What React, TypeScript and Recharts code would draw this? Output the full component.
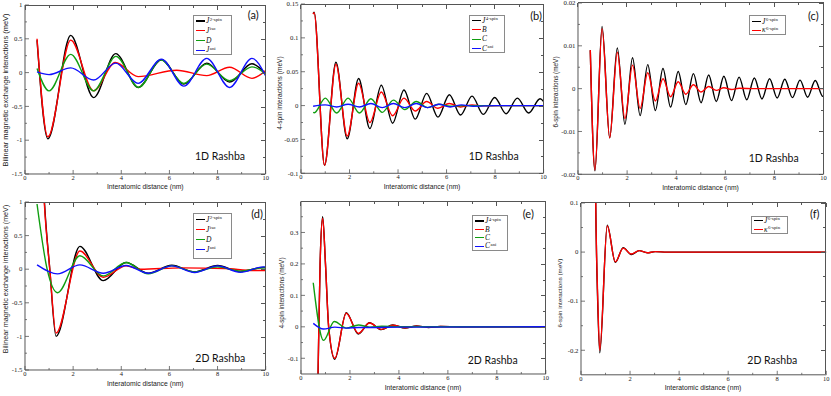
import React from 'react';
import { LineChart, Line, XAxis, YAxis } from 'recharts';

type Pair = [number, number];

// ---------- axis ticks ----------
const X_MAJOR = [0, 2, 4, 6, 8, 10];
const X_MINOR = [1, 3, 5, 7, 9];

const Y_AD_MAJOR = [-1.5, -1, -0.5, 0, 0.5, 1];
const Y_AD_MINOR = [-1.25, -0.75, -0.25, 0.25, 0.75];
const Y_B_MAJOR = [-0.1, -0.05, 0, 0.05, 0.1, 0.15];
const Y_B_MINOR = [-0.075, -0.025, 0.025, 0.075, 0.125];
const Y_C_MAJOR = [-0.02, -0.01, 0, 0.01, 0.02];
const Y_C_MINOR = [-0.015, -0.005, 0.005, 0.015];
const Y_E_MAJOR = [-0.1, 0, 0.1, 0.2, 0.3];
const Y_E_MINOR = [-0.05, 0.05, 0.15, 0.25, 0.35];
const Y_F_MAJOR = [-0.2, -0.1, 0, 0.1];
const Y_F_MINOR = [-0.15, -0.05, 0.05];

// ---------- panel (a): 1D Rashba, bilinear ----------
const a_J2spin: Pair[] = [[0.5,0.48],[0.95,-0.98],[1.9,0.55],[2.85,-0.37],[3.77,0.28],[4.7,-0.22],[5.67,0.19],[6.6,-0.17],[7.55,0.14],[8.5,-0.14],[9.43,0.13],[10,-0.02]];
const a_Jiso: Pair[] = [[0.5,0.5],[0.95,-0.95],[1.9,0.48],[2.85,-0.27],[3.75,0.15],[4.7,-0.06],[6.3,0.035],[7.55,-0.045],[8.5,0.08],[9.43,-0.085],[10,0.03]];
const a_D: Pair[] = [[0.5,0.06],[1.0,-0.27],[1.9,0.27],[2.85,-0.27],[3.78,0.24],[4.72,-0.22],[5.65,0.19],[6.6,-0.16],[7.55,0.125],[8.5,-0.12],[9.43,0.085],[10,-0.02]];
const a_Jani: Pair[] = [[0.5,0.01],[1.0,-0.03],[1.9,0.07],[2.85,-0.11],[3.77,0.14],[4.7,-0.16],[5.67,0.2],[6.6,-0.2],[7.55,0.21],[8.5,-0.22],[9.43,0.21],[10,-0.05]];

// ---------- panel (b): 1D Rashba, 4-spin ----------
const b_J4spin: Pair[] = [[0.5,0.136],[0.54,0.138],[0.97,-0.088],[1.44,0.064],[1.905,-0.049],[2.375,0.04],[2.84,-0.034],[3.31,0.03],[3.775,-0.026],[4.245,0.023],[4.71,-0.02],[5.18,0.018],[5.645,-0.017],[6.115,0.016],[6.58,-0.014],[7.05,0.014],[7.515,-0.013],[7.985,0.012],[8.45,-0.012],[8.92,0.011],[9.385,-0.011],[9.855,0.01],[10,0.006]];
const b_B: Pair[] = [[0.5,0.135],[0.54,0.137],[0.97,-0.088],[1.44,0.061],[1.905,-0.045],[2.375,0.033],[2.84,-0.025],[3.31,0.02],[3.775,-0.015],[4.245,0.011],[4.71,-0.008],[5.18,0.006],[5.645,-0.004],[6.115,0.003],[6.58,-0.002],[7.05,0.001],[7.515,-0.0005],[8.2,0],[10,0]];
const b_C: Pair[] = [[0.5,-0.01],[0.55,-0.0105],[1.0,0.011],[1.47,-0.011],[1.94,0.011],[2.41,-0.011],[2.88,0.01],[3.35,-0.01],[3.81,0.008],[4.28,-0.006],[4.75,0.006],[5.22,-0.003],[5.68,0.002],[6.15,-0.001],[6.7,0],[10,0]];
const b_Cani: Pair[] = [[0.5,-0.001],[1.0,0.001],[1.47,-0.002],[1.94,0.002],[2.41,-0.002],[2.88,0.003],[3.35,-0.003],[3.81,0.003],[4.28,-0.003],[4.75,0.003],[5.22,-0.003],[5.68,0.002],[6.15,-0.002],[6.62,0.001],[7.1,-0.001],[8,0],[10,0]];

// ---------- panel (c): 1D Rashba, 6-spin ----------
const c_J6spin: Pair[] = [[0.5,0.009],[0.69,-0.0192],[0.98,0.0145],[1.29,-0.0115],[1.6,0.0095],[1.91,-0.0083],[2.22,0.0072],[2.53,-0.0063],[2.84,0.0056],[3.15,-0.0051],[3.46,0.0047],[3.77,-0.0043],[4.08,0.004],[4.39,-0.0037],[4.7,0.0035],[5.01,-0.0033],[5.32,0.0032],[5.63,-0.003],[5.94,0.0029],[6.25,-0.0028],[6.56,0.0027],[6.87,-0.0026],[7.18,0.0025],[7.49,-0.0024],[7.8,0.0023],[8.11,-0.0022],[8.42,0.0022],[8.73,-0.0021],[9.04,0.002],[9.35,-0.002],[9.66,0.0019],[9.97,-0.0018],[10,-0.0017]];
const c_kappa: Pair[] = [[0.5,0.009],[0.69,-0.019],[0.98,0.014],[1.29,-0.0115],[1.6,0.0085],[1.91,-0.007],[2.22,0.0055],[2.53,-0.0046],[2.84,0.0037],[3.15,-0.0029],[3.46,0.0023],[3.77,-0.0019],[4.08,0.0016],[4.39,-0.0013],[4.7,0.0009],[5.01,-0.0008],[5.32,0.0005],[5.63,-0.0004],[5.94,0.0002],[6.25,-0.0002],[6.56,0.0001],[7.2,0],[10,0]];

// ---------- panel (d): 2D Rashba, bilinear ----------
const d_J2spin: Pair[] = [[0.55,3.2],[0.8,1.05],[1.03,0],[1.29,-1.0],[2.28,0.34],[3.25,-0.17],[4.2,0.1],[5.12,-0.06],[6.1,0.06],[7.05,-0.04],[8.0,0.055],[8.95,-0.035],[9.9,0.025],[10,0.024]];
const d_Jiso: Pair[] = [[0.55,3.1],[0.8,1.0],[1.03,0],[1.29,-0.95],[2.28,0.27],[3.25,-0.12],[4.2,0.05],[4.8,0.0],[6.5,0.02],[8.3,0.01],[9.5,-0.02],[10,-0.02]];
const d_D: Pair[] = [[0.5,0.97],[0.92,0],[1.35,-0.35],[2.28,0.2],[3.25,-0.1],[4.2,0.1],[5.12,-0.07],[6.1,0.05],[7.05,-0.04],[8.0,0.035],[8.95,-0.03],[9.9,0.02],[10,0.02]];
const d_Jani: Pair[] = [[0.5,0.065],[1.35,-0.07],[2.28,0.065],[3.25,-0.06],[4.2,0.055],[5.12,-0.06],[6.1,0.05],[7.05,-0.05],[8.0,0.05],[8.95,-0.045],[9.9,0.035],[10,0.034]];

// ---------- panel (e): 2D Rashba, 4-spin ----------
const e_J4spin: Pair[] = [[0.6,-0.62],[0.7,-0.14],[0.78,0.2],[0.885,0.35],[1.0,0.2],[1.13,0.0],[1.38,-0.103],[1.85,0.045],[2.34,-0.023],[2.8,0.013],[3.28,-0.009],[3.75,0.006],[4.25,-0.004],[4.72,0.003],[5.2,-0.002],[5.7,0.001],[6.5,0],[10,0]];
const e_B: Pair[] = [[0.6,-0.6],[0.7,-0.13],[0.78,0.2],[0.885,0.345],[1.0,0.2],[1.13,0.0],[1.38,-0.1],[1.85,0.043],[2.34,-0.021],[2.8,0.012],[3.28,-0.008],[3.75,0.005],[4.25,-0.003],[4.72,0.002],[5.2,-0.001],[5.7,0.0008],[6.5,0],[10,0]];
const e_C: Pair[] = [[0.5,0.14],[0.92,-0.043],[1.36,0.017],[1.85,-0.004],[2.35,0.006],[2.8,-0.001],[3.3,0.002],[4,0],[10,0]];
const e_Cani: Pair[] = [[0.5,0.011],[0.92,-0.007],[1.38,-0.001],[1.85,-0.004],[2.35,-0.002],[3,-0.002],[4,-0.001],[10,0]];

// ---------- panel (f): 2D Rashba, 6-spin ----------
const f_J6spin: Pair[] = [[0.53,0.52],[0.6,0.1],[0.68,-0.1],[0.765,-0.205],[1.07,0.055],[1.4,-0.021],[1.72,0.009],[2.05,-0.005],[2.37,0.003],[2.7,-0.0015],[3.02,0.001],[3.5,0],[10,0]];
const f_kappa: Pair[] = [[0.53,0.5],[0.6,0.1],[0.68,-0.09],[0.765,-0.2],[1.07,0.053],[1.4,-0.02],[1.72,0.008],[2.05,-0.004],[2.37,0.003],[2.7,-0.0015],[3.02,0.001],[3.5,0],[10,0]];

// ---------- texts ----------
const X_TITLE = 'Interatomic distance (nm)';
const Y_TITLE_BIL = 'Bilinear magnetic exchange interactions (meV)';
const Y_TITLE_4 = '4-spin interactions (meV)';
const Y_TITLE_6 = '6-spin interactions (meV)';

// ---------- style ----------
const BLACK = '#000000';
const RED = '#ff0000';
const GREEN = '#109e10';
const BLUE = '#1010ff';
const FRAME = '#555555';
const TICK_FONT = '"Liberation Serif", "DejaVu Serif", serif';
const SANS = '"Liberation Sans", Arial, sans-serif';
const CAL = 'Lato, "Open Sans", sans-serif';

// axis box sizes and the padding of each chart's svg around its plot area
const AX_B = 10;
const AX_L = 18;
const PAD_L = 30;
const PAD_T = 12;
const PAD_R = 12;
const PAD_B = 20;

interface LegendItem { color: string; base: string; sup?: string; }
interface Panel {
  plot: { l: number; t: number; r: number; b: number };
  yDomain: [number, number];
  yMajor: number[];
  yMinor: number[];
  series: { data: Pair[]; color: string }[];
  yTitle: string; yTitleSize: number; yTitlePos: [number, number];
  xTitlePos: [number, number];
  tag: string; tagPos: [number, number];
  note: string; notePos: [number, number];
  legend: { x: number; y: number; w: number; h: number; first: number; pitch: number; items: LegendItem[] };
}

const LEG_BIL: LegendItem[] = [
  { color: BLACK, base: 'J', sup: '2-spin' },
  { color: RED, base: 'J', sup: 'iso' },
  { color: GREEN, base: 'D' },
  { color: BLUE, base: 'J', sup: 'ani' },
];
const LEG_4: LegendItem[] = [
  { color: BLACK, base: 'J', sup: '4-spin' },
  { color: RED, base: 'B' },
  { color: GREEN, base: 'C' },
  { color: BLUE, base: 'C', sup: 'ani' },
];
const LEG_6: LegendItem[] = [
  { color: BLACK, base: 'J', sup: '6-spin' },
  { color: RED, base: 'κ', sup: '6-spin' },
];

const PANELS: Panel[] = [
  {
    plot: { l: 25, t: 5, r: 265.7, b: 174 },
    yDomain: [-1.5, 1], yMajor: Y_AD_MAJOR, yMinor: Y_AD_MINOR,
    series: [{ data: a_J2spin, color: BLACK }, { data: a_Jiso, color: RED }, { data: a_D, color: GREEN }, { data: a_Jani, color: BLUE }],
    yTitle: Y_TITLE_BIL, yTitleSize: 7.4, yTitlePos: [6, 90], xTitlePos: [145.3, 186.5],
    tag: '(a)', tagPos: [253.3, 14.3], note: '1D Rashba', notePos: [220, 155.7],
    legend: { x: 193, y: 15, w: 39, h: 40, first: 21, pitch: 9.7, items: LEG_BIL },
  },
  {
    plot: { l: 300.7, t: 4, r: 543.3, b: 173.3 },
    yDomain: [-0.1, 0.15], yMajor: Y_B_MAJOR, yMinor: Y_B_MINOR,
    series: [{ data: b_J4spin, color: BLACK }, { data: b_B, color: RED }, { data: b_C, color: GREEN }, { data: b_Cani, color: BLUE }],
    yTitle: Y_TITLE_4, yTitleSize: 6.6, yTitlePos: [280, 93], xTitlePos: [422, 187],
    tag: '(b)', tagPos: [536, 14.5], note: '1D Rashba', notePos: [493.7, 156],
    legend: { x: 469, y: 15, w: 36, h: 38, first: 20.7, pitch: 9.2, items: LEG_4 },
  },
  {
    plot: { l: 577.7, t: 2.7, r: 823.3, b: 174 },
    yDomain: [-0.02, 0.02], yMajor: Y_C_MAJOR, yMinor: Y_C_MINOR,
    series: [{ data: c_J6spin, color: BLACK }, { data: c_kappa, color: RED }],
    yTitle: Y_TITLE_6, yTitleSize: 6.4, yTitlePos: [555.5, 91.7], xTitlePos: [700.5, 188],
    tag: '(c)', tagPos: [813.3, 14.5], note: '1D Rashba', notePos: [773.7, 157.5],
    legend: { x: 749, y: 15, w: 37, h: 20, first: 21.7, pitch: 8.5, items: LEG_6 },
  },
  {
    plot: { l: 25, t: 202, r: 265.7, b: 370 },
    yDomain: [-1.5, 1], yMajor: Y_AD_MAJOR, yMinor: Y_AD_MINOR,
    series: [{ data: d_J2spin, color: BLACK }, { data: d_Jiso, color: RED }, { data: d_D, color: GREEN }, { data: d_Jani, color: BLUE }],
    yTitle: Y_TITLE_BIL, yTitleSize: 7.2, yTitlePos: [6, 279.3], xTitlePos: [145.3, 383.5],
    tag: '(d)', tagPos: [257, 213.3], note: '2D Rashba', notePos: [220.3, 357.7],
    legend: { x: 193, y: 212.7, w: 39, h: 46, first: 219.5, pitch: 10, items: LEG_BIL },
  },
  {
    plot: { l: 300.7, t: 201, r: 545.5, b: 374 },
    yDomain: [-0.15, 0.4], yMajor: Y_E_MAJOR, yMinor: Y_E_MINOR,
    series: [{ data: e_J4spin, color: BLACK }, { data: e_B, color: RED }, { data: e_C, color: GREEN }, { data: e_Cani, color: BLUE }],
    yTitle: Y_TITLE_4, yTitleSize: 6.4, yTitlePos: [281.7, 292.7], xTitlePos: [423, 388],
    tag: '(e)', tagPos: [528.3, 213], note: '2D Rashba', notePos: [492.7, 360],
    legend: { x: 472, y: 215, w: 36, h: 36, first: 221, pitch: 8.4, items: LEG_4 },
  },
  {
    plot: { l: 580.7, t: 202.5, r: 826, b: 374.3 },
    yDomain: [-0.25, 0.1], yMajor: Y_F_MAJOR, yMinor: Y_F_MINOR,
    series: [{ data: f_J6spin, color: BLACK }, { data: f_kappa, color: RED }],
    yTitle: Y_TITLE_6, yTitleSize: 6.2, yTitlePos: [560, 292.7], xTitlePos: [703, 388.3],
    tag: '(f)', tagPos: [814.7, 213], note: '2D Rashba', notePos: [772.3, 360.3],
    legend: { x: 751, y: 216, w: 37, h: 18, first: 220.5, pitch: 8.8, items: LEG_6 },
  },
];

const toPts = (arr: Pair[]) => arr.map(([x, y]) => ({ x, y }));
const fmt = (v: number) => String(v);
const MAJ = 4;
const MIN = 2;

function makeBottomTick(majors: number[]) {
  return (props: any) => {
    const { x, y, payload } = props;
    const v = payload.value;
    const isMaj = majors.includes(v);
    return (
      <g>
        <line x1={x} x2={x} y1={y} y2={y - (isMaj ? MAJ : MIN)} stroke={FRAME} strokeWidth={0.8} />
        {isMaj && (
          <text x={x} y={y + 5.8} textAnchor="middle" fontFamily={TICK_FONT} fontSize={6.5} fill="#222">{fmt(v)}</text>
        )}
      </g>
    );
  };
}
function makeLeftTick(majors: number[]) {
  return (props: any) => {
    const { x, y, payload } = props;
    const v = payload.value;
    const isMaj = majors.includes(v);
    return (
      <g>
        <line x1={x} x2={x + (isMaj ? MAJ : MIN)} y1={y} y2={y} stroke={FRAME} strokeWidth={0.8} />
        {isMaj && (
          <text x={x - 2.5} y={y + 2.3} textAnchor="end" fontFamily={TICK_FONT} fontSize={6.8} fill="#222">{fmt(v)}</text>
        )}
      </g>
    );
  };
}

const X_TICKS = [...X_MAJOR, ...X_MINOR].sort((a, b) => a - b);
const X_DOMAIN: [number, number] = [0, 10];

// top / right edges of the frame box with inward tick marks (decoration mirroring the axes)
function FrameTopRight({ p }: { p: Panel }) {
  const { plot } = p;
  const [y0, y1] = p.yDomain;
  const yTicks = [...p.yMajor, ...p.yMinor];
  const W = plot.r - plot.l;
  const H = plot.b - plot.t;
  return (
    <div style={{
      position: 'absolute', left: plot.l, top: plot.t - 0.5, width: W + 0.5, height: H + 0.5, boxSizing: 'border-box',
      borderTop: `1px solid ${FRAME}`, borderRight: `1px solid ${FRAME}`, pointerEvents: 'none',
    }}>
      {X_TICKS.map((t) => {
        const px = ((t - X_DOMAIN[0]) / (X_DOMAIN[1] - X_DOMAIN[0])) * W;
        return <div key={'x' + t} style={{ position: 'absolute', left: px - 0.4, top: 0, width: 0.8, height: X_MAJOR.includes(t) ? MAJ : MIN, background: FRAME }} />;
      })}
      {yTicks.map((t) => {
        const py = ((y1 - t) / (y1 - y0)) * H;
        const len = p.yMajor.includes(t) ? MAJ : MIN;
        return <div key={'y' + t} style={{ position: 'absolute', right: 0, top: py - 0.4, width: len, height: 0.8, background: FRAME }} />;
      })}
    </div>
  );
}

function PanelChart({ p }: { p: Panel }) {
  const { plot } = p;
  const left = plot.l - PAD_L;
  const top = plot.t - PAD_T;
  const w = plot.r - plot.l + PAD_L + PAD_R;
  const h = plot.b - plot.t + PAD_T + PAD_B;
  const margin = { left: PAD_L - AX_L, top: PAD_T, right: PAD_R, bottom: PAD_B - AX_B };
  const yTicks = [...p.yMajor, ...p.yMinor].sort((a, b) => a - b);
  return (
    <div style={{ position: 'absolute', left, top, width: w, height: h }}>
      <LineChart width={w} height={h} margin={margin}>
        <XAxis dataKey="x" type="number" domain={X_DOMAIN} ticks={X_TICKS} interval={0}
          tickSize={0} tickMargin={0} height={AX_B} allowDataOverflow
          axisLine={{ stroke: FRAME, strokeWidth: 1 }} tick={makeBottomTick(X_MAJOR)} />
        <YAxis type="number" domain={p.yDomain} ticks={yTicks} interval={0}
          tickSize={0} tickMargin={0} width={AX_L} allowDataOverflow
          axisLine={{ stroke: FRAME, strokeWidth: 1 }} tick={makeLeftTick(p.yMajor)} />
        {p.series.map((s, i) => (
          <Line key={i} data={toPts(s.data)} dataKey="y" type="monotoneX" stroke={s.color}
            strokeWidth={1.4} dot={false} activeDot={false} isAnimationActive={false} />
        ))}
      </LineChart>
    </div>
  );
}

function Overlay({ p }: { p: Panel }) {
  const lg = p.legend;
  return (
    <>
      <FrameTopRight p={p} />
      <div style={{
        position: 'absolute', left: p.yTitlePos[0], top: p.yTitlePos[1], transform: 'translate(-50%, -50%) rotate(-90deg)',
        whiteSpace: 'nowrap', fontFamily: SANS, fontSize: p.yTitleSize, lineHeight: 1, color: '#222',
      }}>{p.yTitle}</div>
      <div style={{
        position: 'absolute', left: p.xTitlePos[0], top: p.xTitlePos[1], transform: 'translate(-50%, -50%)',
        whiteSpace: 'nowrap', fontFamily: SANS, fontSize: 6.8, lineHeight: 1, color: '#222',
      }}>{X_TITLE}</div>
      <div style={{
        position: 'absolute', left: p.tagPos[0], top: p.tagPos[1], transform: 'translate(-50%, -50%)',
        whiteSpace: 'nowrap', fontFamily: CAL, fontSize: 11, lineHeight: 1, color: '#111',
      }}>{p.tag}</div>
      <div style={{
        position: 'absolute', left: p.notePos[0], top: p.notePos[1], transform: 'translate(-50%, -50%)',
        whiteSpace: 'nowrap', fontFamily: CAL, fontSize: 10.5, lineHeight: 1, color: '#111',
      }}>{p.note}</div>
      <div style={{
        position: 'absolute', left: lg.x, top: lg.y, width: lg.w, height: lg.h, boxSizing: 'border-box',
        border: '1px solid #8a8a8a', background: '#fff',
      }}>
        {lg.items.map((it, i) => (
          <div key={i} style={{ position: 'absolute', left: 1.5, top: lg.first - lg.y - 1 + i * lg.pitch, height: 0, width: lg.w - 4 }}>
            <div style={{ position: 'absolute', left: 0, top: -0.6, width: 9, height: 1.2, background: it.color }} />
            <div style={{
              position: 'absolute', left: 10.5, top: -3.8, height: 7.6, lineHeight: '7.6px', whiteSpace: 'nowrap',
              fontFamily: TICK_FONT, fontStyle: 'italic', fontSize: 7.5, color: '#111',
            }}>
              {it.base}
              {it.sup && (
                <span style={{ fontStyle: 'normal', fontSize: 4.8, lineHeight: '4.8px', verticalAlign: 2.5, marginLeft: 0.5 }}>{it.sup}</span>
              )}
            </div>
          </div>
        ))}
      </div>
    </>
  );
}

export default function App() {
  return (
    <div style={{ position: 'absolute', left: 0, top: 0, width: 831, height: 396, background: '#fff', overflow: 'hidden' }}>
      {PANELS.map((p, i) => (
        <PanelChart key={i} p={p} />
      ))}
      {PANELS.map((p, i) => (
        <Overlay key={'o' + i} p={p} />
      ))}
    </div>
  );
}
